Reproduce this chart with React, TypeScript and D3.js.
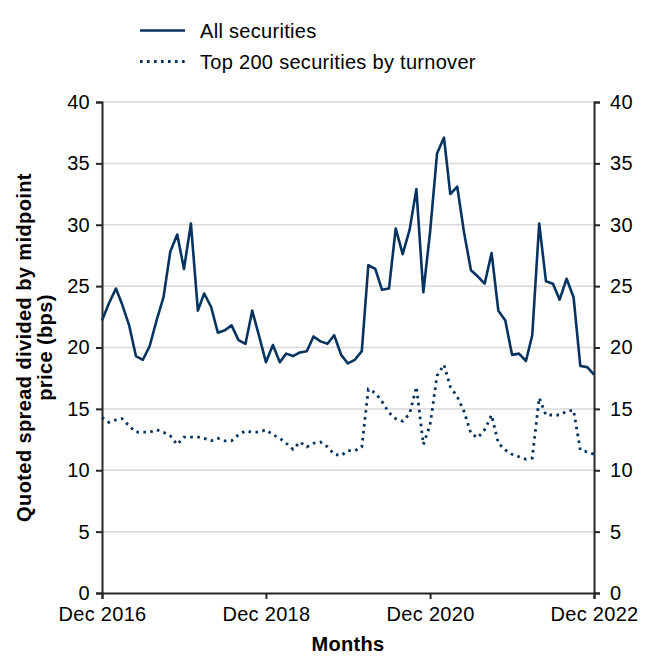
import * as d3 from "d3";
import React, { useEffect, useRef } from "react";

// Monthly values, Dec 2016 .. Dec 2022
const startMonth = new Date(2016, 11, 1);

const allSecurities: number[] = [
  22.2, 23.6, 24.8, 23.5, 21.8, 19.3, 19.0, 20.1, 22.2, 24.1, 27.8, 29.2,
  26.4, 30.1, 23.0, 24.4, 23.3, 21.2, 21.4, 21.8, 20.6, 20.3, 23.0, 20.9,
  18.8, 20.2, 18.8, 19.5, 19.3, 19.6, 19.7, 20.9, 20.5, 20.3, 21.0, 19.4,
  18.7, 19.0, 19.7, 26.7, 26.4, 24.7, 24.8, 29.7, 27.6, 29.6, 32.9, 24.5,
  29.4, 35.8, 37.1, 32.5, 33.1, 29.4, 26.3, 25.8, 25.2, 27.7, 23.0, 22.2,
  19.4, 19.5, 18.9, 21.0, 30.1, 25.4, 25.2, 23.9, 25.6, 24.1, 18.5, 18.4,
  17.8,
];

const top200: number[] = [
  14.3, 13.9, 14.1, 14.2, 13.6, 13.1, 13.1, 13.1, 13.3, 13.1, 12.8, 12.1,
  12.7, 12.7, 12.7, 12.6, 12.4, 12.6, 12.4, 12.4, 12.9, 13.2, 13.1, 13.1,
  13.3, 12.9, 12.6, 12.2, 11.7, 12.3, 11.9, 12.2, 12.3, 11.9, 11.3, 11.2,
  11.6, 11.6, 11.9, 16.6, 16.3, 15.6, 14.7, 14.2, 14.0, 14.6, 16.8, 12.1,
  13.7, 17.7, 18.6, 16.8, 16.0, 14.8, 13.0, 12.65, 13.3, 14.5, 12.2, 11.65,
  11.3, 11.1, 10.9, 11.0, 15.9, 14.5, 14.5, 14.5, 14.8, 14.9, 11.65, 11.5,
  11.3,
];

const xTickDates: Date[] = [
  new Date(2016, 11, 1),
  new Date(2018, 11, 1),
  new Date(2020, 11, 1),
  new Date(2022, 11, 1),
];

const yTicks: number[] = [0, 5, 10, 15, 20, 25, 30, 35, 40];

const seriesNames: string[] = ["All securities", "Top 200 securities by turnover"];

const App: React.FC = () => {
  const ref = useRef<SVGSVGElement>(null);

  useEffect(() => {
    document.body.style.margin = "0";

    const width = 656;
    const height = 669;
    const margin = { top: 102, right: 62, bottom: 76, left: 102 };
    const navy = "#06335f";
    const axisColor = "#262626";
    const font = "'Liberation Sans', Arial, sans-serif";
    const fontSize = "20px";
    const spacing = "0.3px";

    d3.select(ref.current).selectAll("*").remove();

    const svg = d3.select(ref.current)
      .attr("width", width)
      .attr("height", height)
      .style("font-family", font);

    const dates = allSecurities.map((_, i) => d3.timeMonth.offset(startMonth, i));

    const x = d3.scaleTime()
      .domain([dates[0], dates[dates.length - 1]])
      .range([margin.left, width - margin.right]);

    const y = d3.scaleLinear()
      .domain([0, 40])
      .range([height - margin.bottom, margin.top]);

    // Gridlines
    svg.append("g")
      .selectAll("line")
      .data(yTicks.slice(1))
      .enter()
      .append("line")
      .attr("x1", margin.left)
      .attr("x2", width - margin.right)
      .attr("y1", (d) => y(d))
      .attr("y2", (d) => y(d))
      .attr("stroke", "#d9d9d9")
      .attr("stroke-width", 1.5);

    // Axes
    const fmt = d3.timeFormat("%b %Y");

    const xAxis = svg.append("g")
      .attr("transform", `translate(0,${height - margin.bottom})`)
      .call(d3.axisBottom(x).tickValues(xTickDates).tickFormat((d) => fmt(d as Date)).tickSize(6).tickPadding(6));

    const yLeft = svg.append("g")
      .attr("transform", `translate(${margin.left},0)`)
      .call(d3.axisLeft(y).tickValues(yTicks).tickSize(6).tickPadding(6));

    const yRight = svg.append("g")
      .attr("transform", `translate(${width - margin.right},0)`)
      .call(d3.axisRight(y).tickValues(yTicks).tickSize(6).tickPadding(10));

    [xAxis, yLeft, yRight].forEach((g) => {
      g.select(".domain").attr("stroke", axisColor).attr("stroke-width", 2);
      g.selectAll(".tick line").attr("stroke", axisColor).attr("stroke-width", 2);
      g.selectAll(".tick text")
        .attr("fill", "#000")
        .style("font-size", fontSize)
        .style("letter-spacing", spacing)
        .style("font-family", font);
    });
    xAxis.selectAll(".tick text").attr("dy", "0.8em");

    // Lines
    const line = d3.line<number>()
      .x((_, i) => x(dates[i]))
      .y((d) => y(d));

    svg.append("path")
      .datum(allSecurities)
      .attr("fill", "none")
      .attr("stroke", navy)
      .attr("stroke-width", 2.6)
      .attr("stroke-linejoin", "round")
      .attr("d", line);

    svg.append("path")
      .datum(top200)
      .attr("fill", "none")
      .attr("stroke", navy)
      .attr("stroke-width", 2.8)
      .attr("stroke-dasharray", "2.6,4.4")
      .attr("d", line);

    // Axis titles
    svg.append("text")
      .attr("x", (margin.left + width - margin.right) / 2)
      .attr("y", 651)
      .attr("text-anchor", "middle")
      .style("font-size", fontSize)
      .style("letter-spacing", spacing)
      .style("font-weight", "bold")
      .text("Months");

    const yTitle = svg.append("text")
      .attr("transform", `translate(0,${(margin.top + height - margin.bottom) / 2}) rotate(-90)`)
      .attr("text-anchor", "middle")
      .style("font-size", fontSize)
      .style("letter-spacing", "0.4px")
      .style("font-weight", "bold");
    yTitle.append("tspan").attr("x", 0).attr("y", 31).text("Quoted spread divided by midpoint");
    yTitle.append("tspan").attr("x", 0).attr("y", 52).text("price (bps)");

    // Legend
    const legend = svg.append("g").attr("transform", "translate(140,0)");
    seriesNames.forEach((name, i) => {
      const ly = 30.5 + i * 31;
      legend.append("line")
        .attr("x1", 0)
        .attr("x2", 45)
        .attr("y1", ly)
        .attr("y2", ly)
        .attr("stroke", navy)
        .attr("stroke-width", i === 0 ? 2.6 : 2.8)
        .attr("stroke-dasharray", i === 0 ? null : "2.6,4.4");
      legend.append("text")
        .attr("x", 60)
        .attr("y", ly + 7)
        .style("font-size", fontSize)
        .style("letter-spacing", spacing)
        .attr("fill", "#000")
        .text(name);
    });
  }, []);

  return <svg ref={ref}></svg>;
};

export default App;
